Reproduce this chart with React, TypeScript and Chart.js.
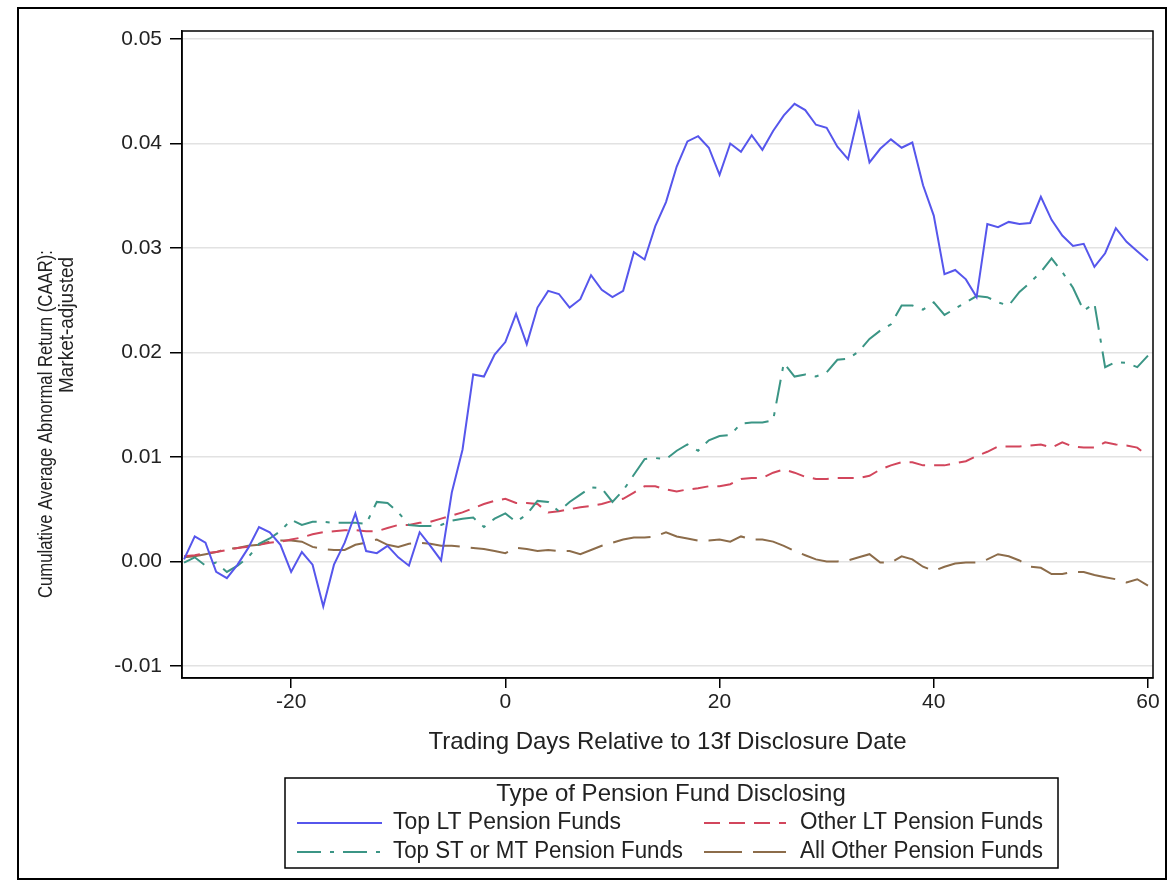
import React, { useEffect, useRef } from "react";
import { Chart, registerables } from "chart.js";

Chart.register(...registerables);

const days = [
  -30, -29, -28, -27, -26, -25, -24, -23, -22, -21, -20, -19, -18, -17, -16, -15, -14, -13, -12, -11,
  -10, -9, -8, -7, -6, -5, -4, -3, -2, -1, 0, 1, 2, 3, 4, 5, 6, 7, 8, 9,
  10, 11, 12, 13, 14, 15, 16, 17, 18, 19, 20, 21, 22, 23, 24, 25, 26, 27, 28, 29,
  30, 31, 32, 33, 34, 35, 36, 37, 38, 39, 40, 41, 42, 43, 44, 45, 46, 47, 48, 49,
  50, 51, 52, 53, 54, 55, 56, 57, 58, 59, 60,
];

const topLT = [
  0.0002, 0.0024, 0.0018, -0.001, -0.0016, -0.0003, 0.0013, 0.0033, 0.0028, 0.0016,
  -0.001, 0.0009, -0.0003, -0.0043, -0.0003, 0.0018, 0.0046, 0.001, 0.0008, 0.0015,
  0.0004, -0.0004, 0.0028, 0.0015, 0.0001, 0.0066, 0.0107, 0.0179, 0.0177, 0.0198,
  0.021, 0.0237, 0.0208, 0.0243, 0.0259, 0.0256, 0.0243, 0.0251, 0.0274, 0.026,
  0.0253, 0.0259, 0.0296, 0.0289, 0.0321, 0.0344, 0.0378, 0.0402, 0.0407, 0.0396,
  0.037, 0.04, 0.0392, 0.0408, 0.0394, 0.0412, 0.0427, 0.0438, 0.0432, 0.0418,
  0.0415, 0.0397, 0.0385, 0.0429, 0.0382, 0.0395, 0.0404, 0.0396, 0.0401, 0.036,
  0.0331, 0.0275, 0.0279, 0.027, 0.0253, 0.0323, 0.032, 0.0325, 0.0323, 0.0324,
  0.0349, 0.0327, 0.0312, 0.0302, 0.0304, 0.0282, 0.0295, 0.0319, 0.0306, 0.0297,
  0.0288,
];

const topSTMT = [
  -0.0001, 0.0004, -0.0004, -0.0001, -0.001, -0.0004, 0.0004, 0.0017, 0.0022, 0.0029,
  0.004, 0.0035, 0.0038, 0.0038, 0.0037, 0.0037, 0.0037, 0.0036, 0.0057, 0.0056,
  0.0047, 0.0035, 0.0034, 0.0034, 0.0035, 0.0039, 0.0041, 0.0042, 0.0033, 0.0041,
  0.0046, 0.0038, 0.0045, 0.0058, 0.0057, 0.0048, 0.0057, 0.0064, 0.0071, 0.007,
  0.0057, 0.0068, 0.0083, 0.0098, 0.0099, 0.0098, 0.0106, 0.0112, 0.0106, 0.0116,
  0.012, 0.0121, 0.0132, 0.0133, 0.0133, 0.0135, 0.019, 0.0177, 0.0179, 0.0177,
  0.0181, 0.0193, 0.0194, 0.0201, 0.0213, 0.0221, 0.0227, 0.0245, 0.0245, 0.0241,
  0.0248, 0.0236, 0.0242, 0.0248, 0.0254, 0.0253, 0.0248, 0.0245, 0.0258, 0.0267,
  0.0277, 0.029, 0.0277, 0.0262, 0.024, 0.0247, 0.0186, 0.0191, 0.019, 0.0186,
  0.0197,
];

const otherLT = [
  0.0005, 0.0006, 0.0008, 0.0009, 0.0011, 0.0013, 0.0014, 0.0016, 0.0018, 0.0019,
  0.0021, 0.0023, 0.0026, 0.0028, 0.0029, 0.003, 0.003, 0.0029, 0.0029, 0.0032,
  0.0035, 0.0035, 0.0037, 0.0038, 0.0041, 0.0044, 0.0047, 0.0051, 0.0055, 0.0058,
  0.006, 0.0056, 0.0056, 0.0055, 0.0047, 0.0048, 0.005, 0.0052, 0.0053, 0.0055,
  0.0058, 0.006, 0.0066, 0.0072, 0.0072, 0.0069, 0.0067, 0.0069, 0.007, 0.0072,
  0.0072, 0.0074, 0.0079, 0.008, 0.008, 0.0085, 0.0088, 0.0085, 0.0081, 0.0079,
  0.0079, 0.008, 0.008, 0.008, 0.0082, 0.0088, 0.0092, 0.0095, 0.0095, 0.0092,
  0.0092, 0.0092, 0.0094, 0.0096, 0.0101, 0.0105, 0.011, 0.011, 0.011, 0.0111,
  0.0112, 0.0109, 0.0114, 0.011, 0.0109, 0.0109, 0.0114, 0.0112, 0.0111, 0.0109,
  0.0101,
];

const allOther = [
  0.0004, 0.0005, 0.0007, 0.0009, 0.0012, 0.0013, 0.0015, 0.0016, 0.0019, 0.002,
  0.002, 0.0019, 0.0014, 0.0012, 0.0011, 0.0011, 0.0016, 0.0018, 0.0021, 0.0016,
  0.0014, 0.0017, 0.0018, 0.0017, 0.0015, 0.0015, 0.0014, 0.0013, 0.0012, 0.001,
  0.0008, 0.0013, 0.0012, 0.001, 0.0011, 0.001, 0.001, 0.0007, 0.0011, 0.0015,
  0.0018, 0.0021, 0.0023, 0.0023, 0.0024, 0.0028, 0.0024, 0.0022, 0.002, 0.002,
  0.0021, 0.0019, 0.0024, 0.0021, 0.0021, 0.0019, 0.0015, 0.001, 0.0006, 0.0002,
  0.0, 0.0, 0.0001, 0.0004, 0.0007, -0.0001, -0.0001, 0.0005, 0.0002, -0.0005,
  -0.0009, -0.0005, -0.0002, -0.0001, -0.0001, 0.0002, 0.0007, 0.0005, 0.0001, -0.0005,
  -0.0006, -0.0012, -0.0012, -0.001, -0.001, -0.0013, -0.0015, -0.0017, -0.002, -0.0017,
  -0.0023,
];

const seriesNames = [
  "Top LT Pension Funds",
  "Top ST or MT Pension Funds",
  "Other LT Pension Funds",
  "All Other Pension Funds",
];
const seriesColors = ["#5656ec", "#3b9585", "#d2465c", "#8c6c4a"];
const seriesDashes: number[][] = [[], [24, 9, 4, 9], [16, 9], [38, 11]];

const xTicks = [-20, 0, 20, 40, 60];
const yTicks = [-0.01, 0, 0.01, 0.02, 0.03, 0.04, 0.05];

const xTitle = "Trading Days Relative to 13f Disclosure Date";
const yTitleLines = ["Cumulative Average Abnormal Return (CAAR):", "Market-adjusted"];
const legendTitle = "Type of Pension Fund Disclosing";

const FONT = "'Liberation Sans', Arial, 'DejaVu Sans', sans-serif";

const pts = (vals: number[]) => days.map((d, i) => ({ x: d, y: vals[i] }));

const decorPlugin = {
  id: "decor",
  afterDraw(chart: any) {
    const ctx = chart.ctx as CanvasRenderingContext2D;
    const ca = chart.chartArea;
    ctx.save();
    // plot frame
    ctx.strokeStyle = "#000";
    ctx.lineWidth = 1.5;
    ctx.setLineDash([]);
    ctx.strokeRect(ca.left, ca.top, ca.right - ca.left, ca.bottom - ca.top);

    // y-axis title (rotated, two lines)
    ctx.fillStyle = "#222";
    ctx.font = `20px ${FONT}`;
    ctx.textAlign = "center";
    ctx.textBaseline = "middle";
    const yPos = [
      { x: 46, y: 424, w: 348 },
      { x: 67, y: 325, w: 136 },
    ];
    yTitleLines.forEach((t, i) => {
      ctx.save();
      ctx.translate(yPos[i].x, yPos[i].y);
      ctx.rotate(-Math.PI / 2);
      ctx.fillText(t, 0, 0, yPos[i].w);
      ctx.restore();
    });

    // legend
    const box = { l: 285, t: 778, r: 1058, b: 868 };
    ctx.strokeStyle = "#000";
    ctx.lineWidth = 1.5;
    ctx.strokeRect(box.l, box.t, box.r - box.l, box.b - box.t);
    ctx.fillStyle = "#222";
    ctx.font = `24px ${FONT}`;
    ctx.textAlign = "center";
    ctx.fillText(legendTitle, 671, 794, 356);

    ctx.font = `23px ${FONT}`;
    const items = [
      { idx: 0, lx: 297, rx: 382, tx: 393, y: 823, w: 228 },
      { idx: 2, lx: 704, rx: 786, tx: 800, y: 823, w: 243 },
      { idx: 1, lx: 297, rx: 382, tx: 393, y: 852, w: 290 },
      { idx: 3, lx: 704, rx: 786, tx: 800, y: 852, w: 243 },
    ];
    items.forEach((it) => {
      ctx.strokeStyle = seriesColors[it.idx];
      ctx.lineWidth = 2;
      ctx.setLineDash(seriesDashes[it.idx]);
      ctx.beginPath();
      ctx.moveTo(it.lx, it.y);
      ctx.lineTo(it.rx, it.y);
      ctx.stroke();
      ctx.setLineDash([]);
      ctx.textAlign = "left";
      ctx.fillStyle = "#222";
      ctx.fillText(seriesNames[it.idx], it.tx, it.y, it.w);
    });
    ctx.restore();
  },
};

export default function App() {
  const ref = useRef<HTMLCanvasElement>(null);
  useEffect(() => {
    if (!ref.current) return;
    const chart = new Chart(ref.current, {
      type: "line",
      data: {
        datasets: seriesNames.map((name, i) => ({
          label: name,
          data: pts([topLT, topSTMT, otherLT, allOther][i]),
          borderColor: seriesColors[i],
          backgroundColor: seriesColors[i],
          borderWidth: 2,
          borderDash: seriesDashes[i],
          pointRadius: 0,
          tension: 0,
          fill: false,
          order: [1, 2, 3, 4][i],
        })),
      },
      options: {
        animation: false,
        responsive: false,
        maintainAspectRatio: false,
        layout: { padding: { left: 0, top: 31, right: 19, bottom: 123 } },
        plugins: {
          legend: { display: false },
          tooltip: { enabled: false },
          title: { display: false },
        },
        scales: {
          x: {
            type: "linear",
            min: -30.19,
            max: 60.47,
            afterBuildTicks: (s: any) => {
              s.ticks = xTicks.map((v) => ({ value: v }));
            },
            afterFit: (s: any) => {
              s.height = 83;
            },
            ticks: {
              color: "#222",
              font: { family: FONT, size: 21 },
              padding: 2,
              maxRotation: 0,
              callback: (v: any) => String(v),
            },
            grid: {
              drawOnChartArea: false,
              drawTicks: true,
              tickLength: 10,
              tickColor: "#000",
              lineWidth: 1.5,
            },
            border: { color: "#000", width: 1.5 },
            title: {
              display: true,
              text: xTitle,
              color: "#222",
              font: { family: FONT, size: 24 },
              padding: { top: 4, bottom: 4 },
            },
          },
          y: {
            type: "linear",
            min: -0.01115,
            max: 0.05077,
            afterBuildTicks: (s: any) => {
              s.ticks = yTicks.map((v) => ({ value: v }));
            },
            afterFit: (s: any) => {
              s.width = 182;
            },
            ticks: {
              color: "#222",
              font: { family: FONT, size: 21 },
              padding: 8,
              callback: (v: any) => Number(v).toFixed(2),
            },
            grid: {
              color: "#e2e2e2",
              lineWidth: 1.5,
              drawTicks: true,
              tickLength: 12,
              tickColor: "#000",
            },
            border: { color: "#000", width: 1.5 },
            title: { display: false },
          },
        },
      },
      plugins: [decorPlugin],
    } as any);
    return () => chart.destroy();
  }, []);

  return (
    <div
      style={{
        position: "absolute",
        left: 0,
        top: 0,
        width: 1172,
        height: 884,
        background: "#fff",
        overflow: "hidden",
      }}
    >
      <canvas
        ref={ref}
        width={1172}
        height={884}
        style={{ position: "absolute", left: 0, top: 0, width: 1172, height: 884 }}
      />
      <div
        style={{
          position: "absolute",
          left: 17,
          top: 7,
          width: 1146,
          height: 869,
          border: "2px solid #000",
          pointerEvents: "none",
        }}
      />
    </div>
  );
}
